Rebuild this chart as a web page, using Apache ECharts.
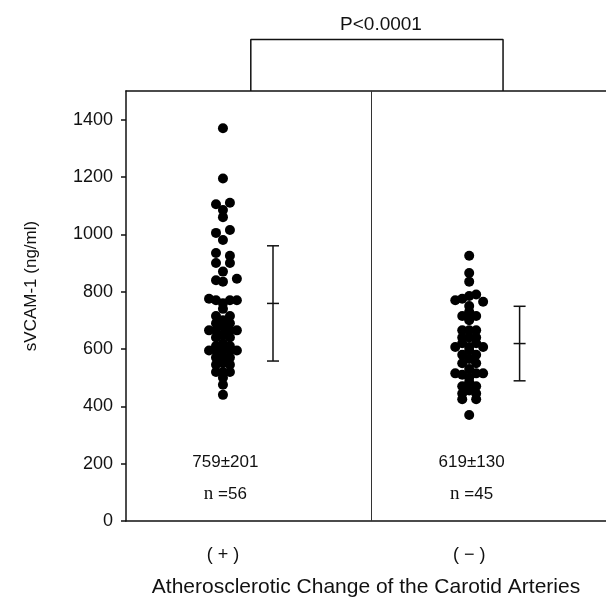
<!DOCTYPE html>
<html>
<head>
<meta charset="utf-8">
<script src="https://cdn.jsdelivr.net/npm/echarts@6/dist/echarts.min.js"></script>
<style>
  html, body { margin: 0; padding: 0; background: #fff; }
  #chart { width: 606px; height: 597px; }
</style>
</head>
<body>
<div id="chart"></div>
<script>
// y axis ticks
const yTicks = [0, 200, 400, 600, 800, 1000, 1200, 1400];

// groups: (+) and (-) atherosclerotic change
const groupNames = ["( + )", "( \u2212 )"];
const groupCenters = [0.404, 1.43];
const barCenters = [0.6125, 1.64];
const means = [759, 619];
const sds = [201, 130];
const counts = [56, 45];

// (+) group; lane = horizontal slot in the dot column
const posValues = [1370, 1195, 1105, 1110, 1085, 1060, 1005, 1015, 980, 935, 925, 900, 900, 870,
  840, 835, 845, 775, 770, 770, 770, 760, 740, 715, 715, 700, 690, 690, 680, 665, 665, 665, 665,
  650, 640, 640, 620, 610, 610, 600, 595, 595, 595, 595, 575, 570, 570, 550, 545, 545, 520, 520,
  520, 500, 475, 440];
const posLanes = [0, 0, -1, 1, 0, 0, -1, 1, 0, -1, 1, -1, 1, 0,
  -1, 0, 2, -2, -1, 1, 2, 0, 0, -1, 1, 0, -1, 1, 0, -2, -1, 1, 2,
  0, -1, 1, 0, -1, 1, 0, -2, -1, 1, 2, 0, -1, 1, 0, -1, 1, -1, 1,
  0, 0, 0, 0];

// (-) group
const negValues = [925, 865, 835, 770, 775, 785, 790, 765, 750, 730, 715, 715, 700, 665, 665, 665,
  640, 640, 640, 620, 620, 607, 607, 607, 595, 580, 580, 565, 550, 550, 530, 515, 510, 515, 515,
  500, 485, 470, 470, 455, 445, 445, 425, 425, 370];
const negLanes = [0, 0, 0, -2, -1, 0, 1, 2, 0, 0, -1, 1, 0, -1, 0, 1,
  -1, 0, 1, -1, 1, -2, 0, 2, 0, -1, 1, 0, -1, 1, 0, -2, -1, 1, 2,
  0, 0, -1, 1, 0, -1, 1, -1, 1, 0];

// where the summary texts sit (in data units)
const meanTextY = 205;
const countTextY = 94;

const laneStep = 0.029;
const dividerX = 1.025;
const bracketX = [0.52, 1.571];
const bracketTop = 1680;
const yMax = 1500;

const sans = "'Liberation Sans', Arial, Helvetica, sans-serif";
const serif = "'Liberation Serif', 'Times New Roman', serif";

function dots(values, lanes, center) {
  return values.map((v, i) => [center + lanes[i] * laneStep, v]);
}

let chart = echarts.init(document.getElementById("chart"));

let option = {
  animation: false,
  title: {
    text: "P<0.0001",
    left: 376,
    textAlign: "center",
    top: 10,
    textStyle: { fontFamily: sans, fontSize: 19, fontWeight: "normal", color: "#111" }
  },
  grid: { left: 126, right: 0, top: 91, bottom: 76, outerBoundsMode: "none" },
  xAxis: [
    {
      type: "value",
      min: 0,
      max: 2,
      splitLine: { show: false },
      axisTick: { show: false },
      axisLine: { lineStyle: { color: "#111", width: 1.5 } },
      axisLabel: {
        customValues: groupCenters,
        formatter: v => groupNames[groupCenters.indexOf(v)],
        margin: 25,
        fontFamily: sans,
        fontSize: 18,
        color: "#111"
      },
      name: "Atherosclerotic Change of the Carotid Arteries",
      nameLocation: "middle",
      nameGap: 56,
      nameTextStyle: { fontFamily: sans, fontSize: 21, color: "#111" }
    },
    {
      type: "value",
      position: "top",
      min: 0,
      max: 2,
      splitLine: { show: false },
      axisTick: { show: false },
      axisLabel: { show: false },
      axisLine: { lineStyle: { color: "#111", width: 1.5 } }
    }
  ],
  yAxis: {
    type: "value",
    min: 0,
    max: yMax,
    splitLine: { show: false },
    axisLine: { show: true, lineStyle: { color: "#111", width: 1.5 } },
    axisTick: { show: true, customValues: yTicks, length: 5, lineStyle: { color: "#111", width: 1.5 } },
    axisLabel: {
      customValues: yTicks,
      formatter: v => String(v),
      margin: 13,
      fontFamily: sans,
      fontSize: 18,
      color: "#111"
    },
    name: "sVCAM-1 (ng/ml)",
    nameLocation: "middle",
    nameGap: 86,
    nameTextStyle: { fontFamily: sans, fontSize: 17, color: "#111", padding: [0, 0, 0, 40] }
  },
  series: [
    {
      type: "scatter",
      data: dots(posValues, posLanes, groupCenters[0]),
      symbolSize: 10,
      itemStyle: { color: "#000", opacity: 1 },
      markLine: {
        silent: true,
        symbol: "none",
        label: { show: false },
        lineStyle: { color: "#333", width: 1, type: "solid" },
        data: [{ xAxis: dividerX }]
      }
    },
    {
      type: "scatter",
      data: dots(negValues, negLanes, groupCenters[1]),
      symbolSize: 10,
      itemStyle: { color: "#000", opacity: 1 }
    },
    {
      type: "custom",
      data: barCenters.map((x, i) => [x, means[i], sds[i]]),
      renderItem: (params, api) => {
        let x = api.value(0), m = api.value(1), s = api.value(2);
        let top = api.coord([x, m + s]);
        let mid = api.coord([x, m]);
        let bot = api.coord([x, m - s]);
        let w = 6;
        let style = { stroke: "#111", lineWidth: 1.5 };
        return {
          type: "group",
          children: [
            { type: "line", shape: { x1: top[0], y1: top[1], x2: bot[0], y2: bot[1] }, style },
            { type: "line", shape: { x1: top[0] - w, y1: top[1], x2: top[0] + w, y2: top[1] }, style },
            { type: "line", shape: { x1: mid[0] - w, y1: mid[1], x2: mid[0] + w, y2: mid[1] }, style },
            { type: "line", shape: { x1: bot[0] - w, y1: bot[1], x2: bot[0] + w, y2: bot[1] }, style }
          ]
        };
      }
    },
    {
      type: "line",
      clip: false,
      symbol: "none",
      lineStyle: { color: "#111", width: 1.5 },
      data: [[bracketX[0], yMax], [bracketX[0], bracketTop], [bracketX[1], bracketTop], [bracketX[1], yMax]]
    },
    {
      // mean ± SD and n under each group
      type: "custom",
      data: groupCenters.map((x, i) => [x + 0.01, i]),
      renderItem: (params, api) => {
        let i = api.value(1);
        let p1 = api.coord([api.value(0), meanTextY]);
        let p2 = api.coord([api.value(0), countTextY]);
        return {
          type: "group",
          children: [
            {
              type: "text",
              x: p1[0], y: p1[1],
              style: {
                text: means[i] + "\u00b1" + sds[i],
                fill: "#111", font: "17px " + sans,
                align: "center", verticalAlign: "middle"
              }
            },
            {
              type: "text",
              x: p2[0], y: p2[1],
              style: {
                text: "{s|n} =" + counts[i],
                fill: "#111", font: "17px " + sans,
                align: "center", verticalAlign: "middle",
                rich: { s: { fontFamily: serif, fontSize: 19, fill: "#111" } }
              }
            }
          ]
        };
      }
    }
  ]
};

chart.setOption(option);
</script>
</body>
</html>
